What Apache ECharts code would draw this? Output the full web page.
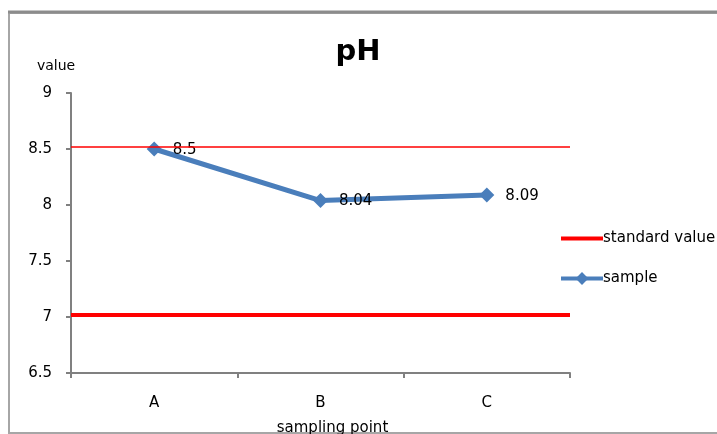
<!DOCTYPE html>
<html>
<head>
<meta charset="utf-8">
<script src="https://cdn.jsdelivr.net/npm/echarts@6/dist/echarts.min.js"></script>
<style>
  html, body { margin: 0; padding: 0; background: #fff; }
  #chart { width: 717px; height: 434px; }
</style>
</head>
<body>
<div id="chart"></div>
<script>
// 采样点与数值
var categories = ['A', 'B', 'C']
var sampleValues = [8.5, 8.04, 8.09]
// 标准值线（图中位置读出）
var standardValues = [8.52, 7.02]
var yTicks = { min: 6.5, max: 9, interval: 0.5 }

var font = 'DejaVu Sans'
var chart = echarts.init(document.getElementById('chart'))

var option = {
  animation: false,
  backgroundColor: '#fff',
  textStyle: { fontFamily: font },
  title: {
    text: 'pH',
    left: 353,
    top: 33,
    textAlign: 'center',
    textStyle: { fontSize: 29, fontWeight: 'bold', color: '#000', fontFamily: font }
  },
  legend: {
    orient: 'vertical',
    left: 554,
    top: 226,
    itemGap: 25,
    itemWidth: 42,
    itemHeight: 16,
    textStyle: { fontSize: 15, color: '#000', fontFamily: font, padding: [0, 0, 0, -5] },
    data: [
      { name: 'standard value', itemStyle: { opacity: 0 }, lineStyle: { width: 4 } },
      { name: 'sample', lineStyle: { width: 4 } }
    ]
  },
  graphic: [
    {
      type: 'polyline',
      shape: { points: [[900, 433], [9, 433], [9, 13], [900, 13]] },
      style: { fill: 'none', stroke: '#a6a6a6', lineWidth: 2 }
    },
    {
      type: 'line',
      shape: { x1: 8, y1: 12, x2: 717, y2: 12 },
      style: { stroke: '#8c8c8c', lineWidth: 3 }
    }
  ],
  grid: {
    left: 71,
    top: 93,
    width: 499,
    height: 280,
    containLabel: false,
    outerBoundsMode: 'none'
  },
  xAxis: {
    type: 'category',
    data: categories,
    name: 'sampling point',
    nameLocation: 'middle',
    nameGap: 48,
    nameTextStyle: { fontSize: 15, color: '#000', fontFamily: font, padding: [0, 0, 0, 24] },
    axisLine: { lineStyle: { color: '#808080', width: 2 } },
    axisTick: { show: true, length: 5, lineStyle: { color: '#808080', width: 2 } },
    axisLabel: { fontSize: 15, color: '#000', margin: 23, fontFamily: font },
    splitLine: { show: false }
  },
  yAxis: {
    type: 'value',
    min: yTicks.min,
    max: yTicks.max,
    interval: yTicks.interval,
    name: 'value',
    nameLocation: 'end',
    nameGap: 20,
    nameTextStyle: { fontSize: 14, color: '#000', fontFamily: font, align: 'center', padding: [0, 30, 0, 0] },
    axisLine: { show: true, lineStyle: { color: '#808080', width: 2 } },
    axisTick: { show: true, length: 5, lineStyle: { color: '#808080', width: 2 } },
    axisLabel: { fontSize: 15, color: '#000', margin: 19, fontFamily: font },
    splitLine: { show: false }
  },
  series: [
    {
      name: 'standard value',
      type: 'line',
      data: [],
      symbol: 'none',
      color: '#ff0000',
      lineStyle: { color: '#ff0000', width: 4 },
      markLine: {
        silent: true,
        symbol: 'none',
        label: { show: false },
        data: [
          { yAxis: standardValues[0], lineStyle: { color: '#ff0000', width: 1.5, type: 'solid' } },
          { yAxis: standardValues[1], lineStyle: { color: '#ff0000', width: 4, type: 'solid' } }
        ]
      }
    },
    {
      name: 'sample',
      type: 'line',
      data: sampleValues,
      color: '#4a7ebb',
      symbol: 'diamond',
      symbolSize: 15,
      lineStyle: { color: '#4a7ebb', width: 5 },
      itemStyle: { color: '#4a7ebb' },
      label: {
        show: true,
        position: 'right',
        distance: 11,
        offset: [0, 1],
        fontSize: 15,
        color: '#000',
        fontFamily: font
      },
      z: 3
    }
  ]
}

chart.setOption(option)
</script>
</body>
</html>
